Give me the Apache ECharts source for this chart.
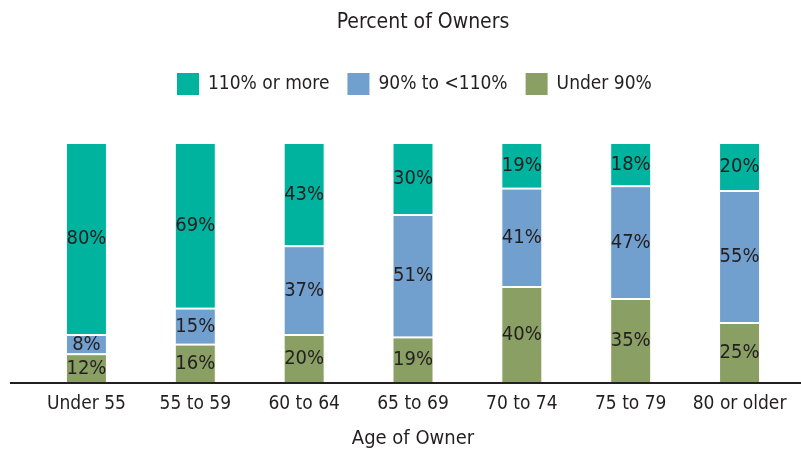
<!DOCTYPE html>
<html>
<head>
<meta charset="utf-8">
<script src="https://cdn.jsdelivr.net/npm/echarts@6/dist/echarts.min.js"></script>
<style>
  html, body { margin: 0; padding: 0; background: #fff; }
  #chart { width: 801px; height: 453px; }
</style>
</head>
<body>
<div id="chart"></div>
<script>
  const categories = ["Under 55", "55 to 59", "60 to 64", "65 to 69", "70 to 74", "75 to 79", "80 or older"];
  const under90 = [12, 16, 20, 19, 40, 35, 25];
  const mid90to110 = [8, 15, 37, 51, 41, 47, 55];
  const over110 = [80, 69, 43, 30, 19, 18, 20];

  const font = "DejaVu Sans Condensed";
  const ink = "#231F20";

  function barSeries(name, data, color) {
    return {
      name: name,
      type: "bar",
      stack: "total",
      barWidth: 41,
      data: data,
      itemStyle: { color: color, borderColor: "#fff", borderWidth: 1 },
      label: {
        show: true,
        position: "inside",
        formatter: "{c}%",
        color: ink,
        fontFamily: font,
        fontSize: 20,
      },
    };
  }

  const chart = echarts.init(document.getElementById("chart"));
  chart.setOption({
    backgroundColor: "#fff",
    animation: false,
    title: {
      text: "Percent of Owners",
      left: 418,
      textAlign: "center",
      top: 7,
      textStyle: { color: ink, fontFamily: font, fontSize: 21, fontWeight: "normal" },
    },
    legend: {
      top: 71,
      left: 175,
      padding: 0,
      itemWidth: 24,
      itemHeight: 24,
      itemGap: 16,
      icon: "rect",
      textStyle: { color: ink, fontFamily: font, fontSize: 19, padding: [0, 0, 0, 3] },
      data: ["110% or more", "90% to <110%", "Under 90%"],
    },
    grid: { left: 32, right: 7, top: 143, bottom: 70, outerBoundsMode: "none" },
    xAxis: {
      type: "category",
      data: categories,
      name: "Age of Owner",
      nameLocation: "middle",
      nameGap: 46,
      nameTextStyle: { color: ink, fontFamily: font, fontSize: 20 },
      axisLine: { show: false },
      axisTick: { show: false },
      axisLabel: { color: ink, fontFamily: font, fontSize: 19, margin: 12, interval: 0 },
    },
    yAxis: { type: "value", min: 0, max: 100, show: false },
    graphic: [
      {
        type: "line",
        shape: { x1: 10, y1: 383, x2: 801, y2: 383 },
        style: { stroke: ink, lineWidth: 2 },
        z: 10,
      },
    ],
    series: [
      barSeries("Under 90%", under90, "#8A9F64"),
      barSeries("90% to <110%", mid90to110, "#72A0CE"),
      barSeries("110% or more", over110, "#00B39E"),
    ],
  });
</script>
</body>
</html>
